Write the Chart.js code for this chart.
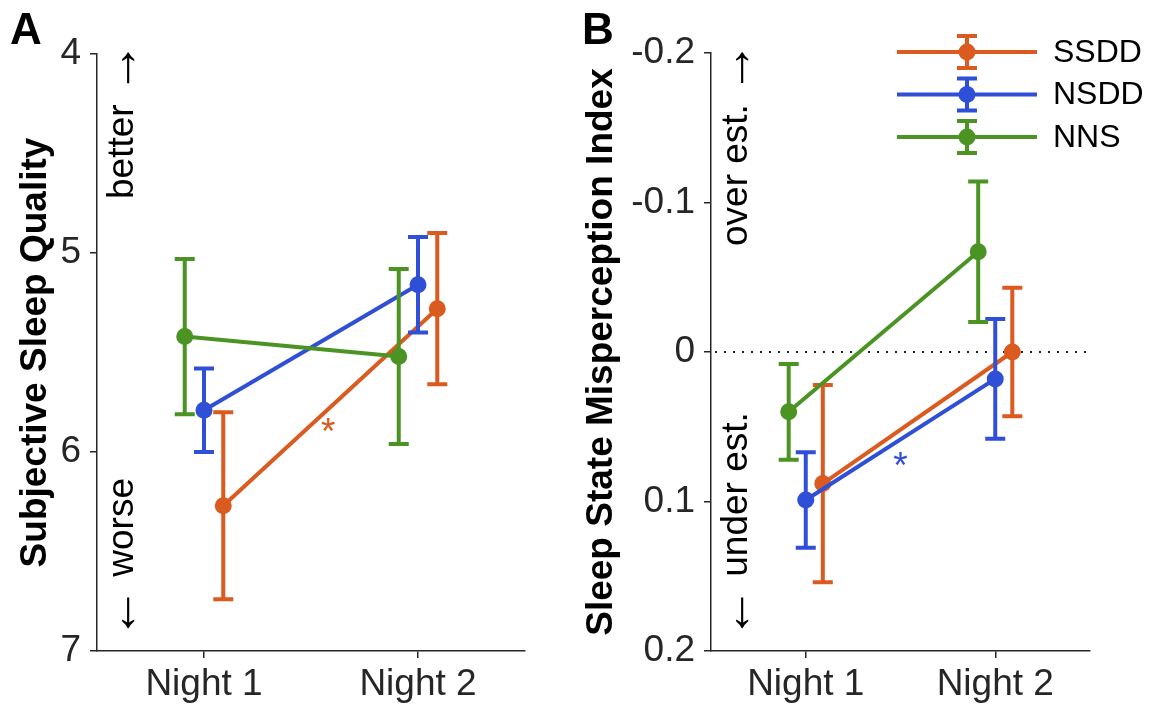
<!DOCTYPE html>
<html>
<head>
<meta charset="utf-8">
<script src="https://cdn.jsdelivr.net/npm/chart.js@4/dist/chart.umd.min.js"></script>
<style>
  html, body { margin: 0; padding: 0; background: #fff; }
  #wrap { position: relative; width: 1162px; height: 710px; }
  canvas { position: absolute; top: 0; }
</style>
</head>
<body>
<div id="wrap">
  <canvas id="chartA" width="580" height="710" style="left:0"></canvas>
  <canvas id="chartB" width="582" height="710" style="left:580px"></canvas>
</div>
<script>
// categories and groups
const nights = ['Night 1', 'Night 2'];
const groups = ['SSDD', 'NSDD', 'NNS'];

// panel A: subjective sleep quality (mean, sem)
const qualitySSDD = [6.27, 5.28];
const qualitySSDDErr = [0.47, 0.38];
const qualityNSDD = [5.79, 5.16];
const qualityNSDDErr = [0.21, 0.24];
const qualityNNS = [5.42, 5.52];
const qualityNNSErr = [0.39, 0.44];

// panel B: sleep state misperception index (mean, sem)
const mispSSDD = [0.088, 0.0];
const mispSSDDErr = [0.066, 0.043];
const mispNSDD = [0.099, 0.018];
const mispNSDDErr = [0.032, 0.040];
const mispNNS = [0.040, -0.067];
const mispNNSErr = [0.032, 0.047];

// tick labels
const qualityTicks = [4, 5, 6, 7];
const mispTicks = [-0.2, -0.1, 0, 0.1, 0.2];

const colors = { SSDD: '#DA5A1F', NSDD: '#2F4FD6', NNS: '#4B9424' };
const dodge = { SSDD: 0.09, NSDD: 0, NNS: -0.09 };
const FONT = '"Liberation Sans", Arial, Helvetica, sans-serif';
const LW = 4;
Chart.defaults.font.family = FONT;

function buildSets(series) {
  return groups.map((g, gi) => ({
    label: g,
    data: series[gi].vals.map((v, i) => ({ x: i + 1 + dodge[g], y: v })),
    err: series[gi].err,
    borderColor: colors[g],
    backgroundColor: colors[g],
    pointBackgroundColor: colors[g],
    pointBorderWidth: 0,
    pointRadius: 8.5,
    borderWidth: LW,
    showLine: true,
    order: groups.length - 1 - gi
  }));
}

// error bars, drawn under each dataset
const errorBars = {
  id: 'errorBars',
  beforeDatasetDraw(chart, args) {
    const ds = chart.data.datasets[args.index];
    const { x: xs, y: ys } = chart.scales;
    const ctx = chart.ctx;
    ctx.save();
    ctx.strokeStyle = ds.borderColor;
    ctx.lineWidth = LW;
    ds.data.forEach((p, i) => {
      const px = xs.getPixelForValue(p.x);
      const top = ys.getPixelForValue(p.y - ds.err[i]);
      const bot = ys.getPixelForValue(p.y + ds.err[i]);
      ctx.beginPath();
      ctx.moveTo(px, top); ctx.lineTo(px, bot);
      ctx.moveTo(px - 10, top); ctx.lineTo(px + 10, top);
      ctx.moveTo(px - 10, bot); ctx.lineTo(px + 10, bot);
      ctx.stroke();
    });
    ctx.restore();
  }
};

// rotated note made of text pieces, each with its own font
function drawNote(ctx, x, y, parts) {
  ctx.save();
  ctx.translate(x, y);
  ctx.rotate(-Math.PI / 2);
  ctx.textAlign = 'left';
  ctx.textBaseline = 'middle';
  let off = 0;
  parts.forEach(([txt, font]) => {
    ctx.font = font;
    ctx.fillText(txt, off, 0);
    off += ctx.measureText(txt).width;
  });
  ctx.restore();
}

// letters, side notes, asterisks, zero line and legend
const extras = {
  id: 'extras',
  beforeDatasetsDraw(chart, args, opts) {
    if (!opts.zeroLine) return;
    const { ctx, chartArea: a } = chart;
    const y = chart.scales.y.getPixelForValue(0);
    ctx.save();
    ctx.strokeStyle = '#222';
    ctx.lineWidth = 2;
    ctx.setLineDash([2, 7]);
    ctx.beginPath();
    ctx.moveTo(a.left + 4, y); ctx.lineTo(a.right, y);
    ctx.stroke();
    ctx.restore();
  },
  afterDraw(chart, args, opts) {
    const { ctx, chartArea: a } = chart;
    ctx.save();
    // panel letter
    ctx.fillStyle = '#000';
    ctx.font = 'bold 44px ' + FONT;
    ctx.textBaseline = 'alphabetic';
    ctx.textAlign = 'left';
    ctx.fillText(opts.letter, opts.letterX, 44);
    // side notes
    const txtFont = '37px ' + FONT;
    const arrFont = '52px ' + FONT;
    const nx = a.left + 26;
    drawNote(ctx, nx, opts.upStart, [[opts.upText + ' ', txtFont], ['\u2192', arrFont]]);
    drawNote(ctx, nx, a.bottom - 12, [['\u2190', arrFont], [' ' + opts.downText, txtFont]]);
    // significance star
    const st = opts.star;
    ctx.fillStyle = colors[st.group];
    ctx.font = '37px ' + FONT;
    ctx.textAlign = 'center';
    ctx.textBaseline = 'middle';
    ctx.fillText('*', chart.scales.x.getPixelForValue(st.x), chart.scales.y.getPixelForValue(st.y) + 8);
    // legend
    if (opts.legend) {
      const lg = opts.legend;
      chart.data.datasets.forEach((ds, i) => {
        const y = lg.top + i * lg.step;
        const mx = (lg.x0 + lg.x1) / 2;
        ctx.strokeStyle = ds.borderColor;
        ctx.fillStyle = ds.borderColor;
        ctx.lineWidth = LW;
        ctx.beginPath();
        ctx.moveTo(lg.x0, y); ctx.lineTo(lg.x1, y);
        ctx.moveTo(mx, y - 16); ctx.lineTo(mx, y + 16);
        ctx.moveTo(mx - 10, y - 16); ctx.lineTo(mx + 10, y - 16);
        ctx.moveTo(mx - 10, y + 16); ctx.lineTo(mx + 10, y + 16);
        ctx.stroke();
        ctx.beginPath();
        ctx.arc(mx, y, 8.5, 0, Math.PI * 2);
        ctx.fill();
        ctx.fillStyle = '#000';
        ctx.font = '32px ' + FONT;
        ctx.textAlign = 'left';
        ctx.textBaseline = 'middle';
        ctx.fillText(ds.label, lg.x1 + 16, y + 1);
      });
    }
    ctx.restore();
  }
};

function makeChart(id, cfg) {
  const ctx = document.getElementById(id).getContext('2d');
  return new Chart(ctx, {
    type: 'scatter',
    data: { datasets: buildSets(cfg.series) },
    plugins: [errorBars, extras],
    options: {
      responsive: false,
      animation: false,
      layout: { padding: { top: cfg.top, right: cfg.right, left: 0, bottom: 0 } },
      plugins: {
        legend: { display: false },
        tooltip: { enabled: false },
        extras: cfg.extras
      },
      scales: {
        x: {
          type: 'linear',
          min: 0.5,
          max: 2.5,
          afterBuildTicks: s => { s.ticks = nights.map((n, i) => ({ value: i + 1 })); },
          afterFit: s => { s.height = 59; s.paddingLeft = 0; s.paddingRight = 0; },
          ticks: {
            callback: (v, i) => nights[i],
            color: '#262626',
            font: { size: 37 },
            padding: 5,
            maxRotation: 0
          },
          grid: { drawOnChartArea: false, tickLength: 7, color: '#262626', lineWidth: 1.5 },
          border: { color: '#262626', width: 1.5 }
        },
        y: {
          type: 'linear',
          reverse: true,
          min: cfg.yTicks[0],
          max: cfg.yTicks[cfg.yTicks.length - 1],
          afterBuildTicks: s => { s.ticks = cfg.yTicks.map(v => ({ value: v })); },
          afterFit: s => { s.width = cfg.yWidth; s.paddingTop = 0; s.paddingBottom = 0; },
          ticks: {
            callback: (v, i) => cfg.yFmt(cfg.yTicks[i]),
            color: '#262626',
            font: { size: 37 },
            padding: 9
          },
          title: {
            display: true,
            text: cfg.title,
            color: '#000',
            font: { size: 37, weight: 'bold' },
            padding: { top: cfg.titlePad, bottom: 0 }
          },
          grid: { drawOnChartArea: false, tickLength: 7, color: '#262626', lineWidth: 1.5 },
          border: { color: '#262626', width: 1.5 }
        }
      }
    }
  });
}

makeChart('chartA', {
  series: [
    { vals: qualitySSDD, err: qualitySSDDErr },
    { vals: qualityNSDD, err: qualityNSDDErr },
    { vals: qualityNNS, err: qualityNNSErr }
  ],
  yTicks: qualityTicks,
  yFmt: v => String(v),
  title: 'Subjective Sleep Quality',
  titlePad: 14,
  yWidth: 97,
  top: 54,
  right: 55,
  extras: {
    letter: 'A', letterX: 10,
    upText: 'better', upStart: 199,
    downText: 'worse',
    star: { group: 'SSDD', x: 1.58, y: 5.87 }
  }
});

makeChart('chartB', {
  series: [
    { vals: mispSSDD, err: mispSSDDErr },
    { vals: mispNSDD, err: mispNSDDErr },
    { vals: mispNNS, err: mispNNSErr }
  ],
  yTicks: mispTicks,
  yFmt: v => (Math.abs(v) < 1e-9 ? '0' : v.toFixed(1)),
  title: 'Sleep State Misperception Index',
  titlePad: 0,
  yWidth: 131,
  top: 53,
  right: 72,
  extras: {
    letter: 'B', letterX: 2,
    upText: 'over est.', upStart: 246,
    downText: 'under est.',
    zeroLine: true,
    star: { group: 'NSDD', x: 1.5, y: 0.072 },
    legend: { x0: 317, x1: 457, top: 52, step: 42.5 }
  }
});
</script>
</body>
</html>
